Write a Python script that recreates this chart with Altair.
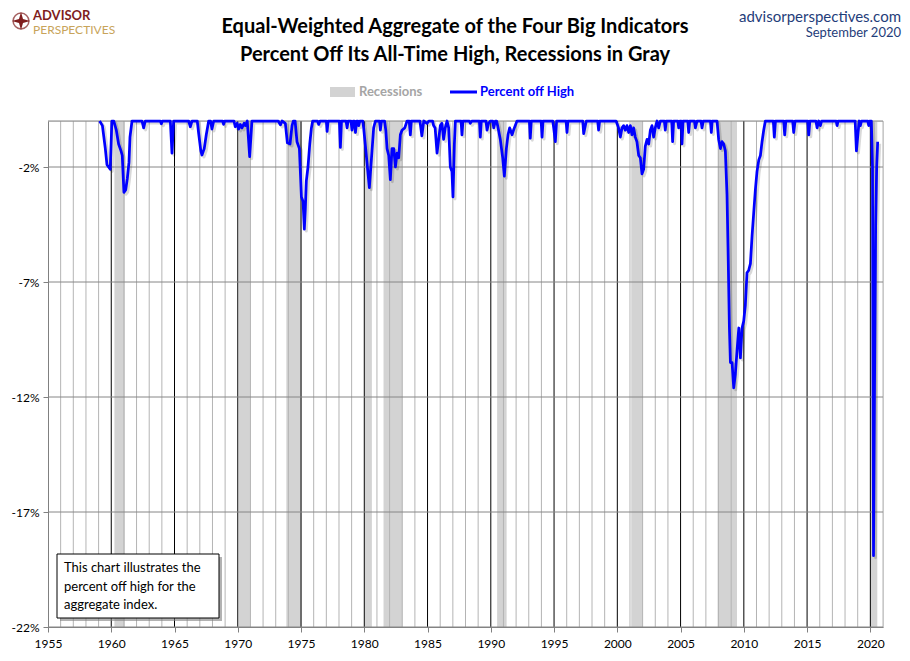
import altair as alt
import pandas as pd

# ---- data ----
years = [1959.08, 1959.3, 1959.53, 1959.66, 1959.92, 1960.05, 1960.2, 1960.4, 1960.58, 1960.77, 1960.87,
         1961.0, 1961.14, 1961.27, 1961.4, 1961.48, 1961.64, 1962.43, 1962.56, 1962.69, 1963.88, 1963.96,
         1964.04, 1964.67, 1964.8, 1964.93, 1966.12, 1966.25, 1966.38, 1966.8, 1966.9, 1967.08, 1967.17,
         1967.35, 1967.51, 1967.7, 1967.85, 1967.96, 1968.1, 1968.8, 1968.88, 1968.96, 1969.7, 1969.8,
         1969.95, 1970.07, 1970.2, 1970.33, 1970.5, 1970.6, 1970.75, 1970.94, 1971.12,
         1973.2, 1973.37, 1973.5, 1973.76, 1973.92, 1974.13, 1974.29, 1974.39, 1974.53, 1974.68, 1974.87,
         1975.03, 1975.16, 1975.26, 1975.34, 1975.42, 1975.55, 1975.69, 1975.82, 1975.92, 1976.3, 1976.4,
         1976.5, 1977.0, 1977.06, 1977.14, 1978.03, 1978.11, 1978.2, 1978.56, 1978.64, 1978.72, 1978.95,
         1979.03, 1979.12, 1979.22, 1979.3, 1979.4, 1979.5, 1979.56, 1979.65, 1979.88, 1979.95, 1980.16,
         1980.4, 1980.61, 1980.74, 1980.88, 1981.2, 1981.27, 1981.36, 1981.6, 1981.7, 1981.8, 1981.93,
         1982.06, 1982.19, 1982.33, 1982.46, 1982.59, 1982.72, 1982.85, 1982.98, 1983.2, 1983.38, 1983.55,
         1983.64, 1983.72, 1984.4, 1984.55, 1984.7, 1984.96, 1985.1, 1985.4, 1985.48, 1985.6, 1985.75,
         1985.88, 1986.01, 1986.14, 1986.27, 1986.4, 1986.54, 1986.67, 1986.8, 1986.93, 1987.01, 1987.12,
         1987.2, 1987.65, 1987.72, 1987.8, 1988.3, 1988.38, 1988.5, 1989.1, 1989.17, 1989.25, 1989.62,
         1989.7, 1989.83, 1989.96, 1990.15, 1990.23, 1990.36, 1990.46, 1990.54, 1990.75, 1990.94, 1991.07,
         1991.23, 1991.36, 1991.49, 1991.68, 1991.86, 1992.07, 1993.05, 1993.12, 1993.2, 1993.98, 1994.05,
         1994.13, 1994.9, 1994.97, 1995.1, 1995.2, 1995.95, 1996.02, 1996.1, 1997.27, 1997.34, 1997.47,
         1997.55, 1998.45, 1998.52, 1998.6, 1999.9, 1999.97, 2000.1, 2000.24, 2000.37, 2000.5, 2000.63,
         2000.76, 2000.9, 2001.03, 2001.16, 2001.29, 2001.42, 2001.55, 2001.69, 2001.82, 2001.95, 2002.08,
         2002.21, 2002.35, 2002.48, 2002.61, 2002.74, 2002.87, 2003.0, 2003.14, 2003.27, 2003.4, 2003.72,
         2003.79, 2003.87, 2004.3, 2004.37, 2004.45, 2004.78, 2004.85, 2004.95, 2005.05, 2005.11, 2005.2,
         2005.57, 2005.64, 2005.72, 2006.1, 2006.17, 2006.3, 2006.62, 2006.69, 2006.8, 2007.36, 2007.43,
         2007.5, 2007.88, 2008.01, 2008.15, 2008.28, 2008.41, 2008.54, 2008.67, 2008.75, 2008.86, 2008.94,
         2009.07, 2009.2, 2009.33, 2009.46, 2009.6, 2009.73, 2009.86, 2009.99, 2010.12, 2010.25, 2010.38,
         2010.52, 2010.65, 2010.78, 2010.91, 2011.04, 2011.18, 2011.31, 2011.44, 2011.57, 2011.7, 2012.33,
         2012.41, 2012.5, 2013.15, 2013.23, 2013.32, 2013.86, 2013.94, 2014.05, 2015.05, 2015.13, 2015.22,
         2015.7, 2015.79, 2015.92, 2016.05, 2016.15, 2017.3, 2017.37, 2017.45, 2018.8, 2018.9, 2019.03,
         2019.12, 2019.21, 2019.3, 2019.8, 2019.87, 2019.95, 2020.08, 2020.17, 2020.25, 2020.33, 2020.42,
         2020.5, 2020.58]
pct_off_high = [0, -0.2, -1.2, -1.9, -2.1, 0, 0, -0.4, -1.0, -1.3, -1.5,
                -3.1, -3.0, -2.5, -1.8, -0.7, 0, 0, -0.3, 0, 0, -0.12,
                0, 0, -1.4, 0, 0, -0.25, 0, 0, -0.5, -1.3, -1.48,
                -1.2, -0.6, 0, 0, -0.35, 0, 0, -0.15, 0, 0, -0.25,
                -0.1, -0.35, -0.15, -0.3, -0.1, -0.2, 0, -1.55, 0,
                0, -0.17, 0, -0.1, -0.95, -1.0, -0.2, 0, 0, -0.9, -1.2,
                -3.3, -3.5, -4.7, -3.8, -2.6, -2.0, -1.0, -0.3, 0, 0, -0.15,
                0, 0, -0.45, 0, 0, -1.15, 0, 0, -0.3, 0, 0,
                -0.4, 0, 0, -0.5, 0, 0, -0.2, 0, 0, -0.3, -1.5,
                -2.9, -1.3, -0.3, 0, 0, -0.4, 0, 0, -0.4, -1.2, -1.5,
                -2.55, -1.2, -1.2, -2.0, -1.4, -1.6, -0.6, -0.4, -0.3, 0, 0,
                -0.6, 0, 0, -0.65, 0, -0.1, 0, 0, -0.2, -0.3, -1.4,
                -0.8, -0.2, -0.1, -0.8, -0.3, 0, -0.3, -2.0, -2.2, -3.3, -1.0,
                0, 0, -0.6, 0, 0, -0.1, 0, 0, -0.7, 0, 0,
                -0.4, -0.1, 0, 0, -0.3, 0, 0, -0.2, -0.8, -1.6, -2.4,
                -1.2, -0.6, -0.3, -0.6, -0.3, 0, 0, -0.75, 0, 0, -0.7,
                0, 0, -0.3, -0.9, 0, 0, -0.5, 0, 0, -0.55, -0.2,
                0, 0, -0.4, 0, 0, -0.1, -0.3, -0.7, -0.3, -0.2, -0.4,
                -0.2, -0.5, -0.2, -0.6, -0.3, -0.7, -0.9, -1.5, -1.6, -2.3, -2.1,
                -1.1, -0.8, -1.0, -0.4, -0.2, -0.7, -0.3, 0, -0.3, 0, 0,
                -0.4, 0, 0, -0.9, 0, 0, -0.3, 0, 0, -1.0, 0,
                0, -0.5, 0, 0, -0.3, 0, 0, -0.3, 0, 0, -0.5,
                0, 0, -0.8, -1.2, -0.9, -1.0, -1.3, -3.2, -5.5, -9.0, -10.5,
                -10.5, -11.6, -11.0, -10.0, -9.0, -10.3, -9.0, -8.7, -8.0, -6.6, -6.5,
                -6.2, -5.0, -4.0, -3.0, -2.2, -1.7, -1.5, -0.9, -0.4, 0, 0,
                -0.7, 0, 0, -0.6, 0, 0, -0.5, 0, 0, -0.6, 0,
                0, -0.3, 0, -0.2, 0, 0, -0.2, 0, 0, -1.3, -0.5,
                0, -0.2, 0, 0, -0.2, 0, 0, -2.0, -18.9, -11.5, -4.5,
                -2.0, -0.9]

rec_start = [1960.25, 1970.08, 1973.84, 1980.05, 1981.52, 1990.5, 2001.1, 2007.92, 2020.0]
rec_end = [1961.08, 1970.99, 1975.05, 1980.6, 1983.0, 1991.25, 2002.0, 2009.46, 2020.55]

x_tick_years = [1955, 1960, 1965, 1970, 1975, 1980, 1985, 1990, 1995, 2000, 2005, 2010, 2015, 2020]
major_years = [1960, 1965, 1970, 1975, 1980, 1985, 1990, 1995, 2000, 2005, 2010, 2015, 2020]
minor_years = [y for y in range(1956, 2022) if y % 5 != 0]
y_ticks = [-22, -17, -12, -7, -2]
h_lines = [0, -2, -7, -12, -17, -22]

note_lines = ["This chart illustrates the", "percent off high for the", "aggregate index."]

FONT = "Lato"
W, H = 835, 506

line_df = pd.DataFrame({"year": years, "pct": pct_off_high})
rec_df = pd.DataFrame({"start": rec_start, "end": rec_end})

xscale = alt.Scale(domain=[1955, 2021], nice=False, zero=False)
yscale = alt.Scale(domain=[-22, 0], nice=False, zero=False)

xaxis = alt.Axis(values=x_tick_years, format="d", title=None, grid=False, labelFont=FONT,
                 labelFontSize=12, labelColor="#000000", domainColor="#808080", tickColor="#808080",
                 tickSize=5, labelPadding=6, labelFlush=False)
yaxis = alt.Axis(values=y_ticks, labelExpr="datum.value + '%'", title=None, grid=False, labelFont=FONT,
                 labelFontSize=12, labelColor="#000000", domainColor="#808080", tickColor="#808080",
                 tickSize=5, labelPadding=4)

X = lambda f: alt.X(f, scale=xscale, axis=xaxis)
Y = lambda f: alt.Y(f, scale=yscale, axis=yaxis)

bands = alt.Chart(rec_df).mark_rect(color="#D3D3D3").encode(
    x=X("start:Q"), x2="end:Q", y=alt.value(0), y2=alt.value(H))

minor = alt.Chart(pd.DataFrame({"year": minor_years})).mark_rule(color="#B4B4B4", strokeWidth=1).encode(
    x=X("year:Q"))
major = alt.Chart(pd.DataFrame({"year": major_years})).mark_rule(color="#000000", strokeWidth=1).encode(
    x=X("year:Q"))
hgrid = alt.Chart(pd.DataFrame({"v": h_lines})).mark_rule(color="#868686", strokeWidth=1).encode(
    y=Y("v:Q"))

shadow = alt.Chart(line_df).mark_line(color="#000000", strokeWidth=3, opacity=0.15, xOffset=2, yOffset=2,
                                      strokeJoin="round").encode(x=X("year:Q"), y=Y("pct:Q"))
line = alt.Chart(line_df).mark_line(color="#0000FF", strokeWidth=2.75, strokeJoin="round").encode(
    x=X("year:Q"), y=Y("pct:Q"))

one = alt.Data(values=[{}])


def txt(s, x, y, size, color, weight="normal", align="left", font=FONT):
    return alt.Chart(one).mark_text(text=s, fontSize=size, color=color, fontWeight=weight, align=align,
                                    baseline="middle", font=font).encode(x=alt.value(x), y=alt.value(y))


title1 = txt("Equal-Weighted Aggregate of the Four Big Indicators", 407, -94, 20, "#000000", "bold", "center")
title2 = txt("Percent Off Its All-Time High, Recessions in Gray", 407, -66, 20, "#000000", "bold", "center")
site = txt("advisorperspectives.com", 853, -104, 15, "#1F3D7A", "normal", "right")
date = txt("September 2020", 853, -88, 13, "#1F3D7A", "normal", "right")
logo1 = txt("ADVISOR", -15, -105, 13, "#7F1D1D", "bold")
logo2 = txt("PERSPECTIVES", -15, -91, 12, "#C8A45A", "normal")
icon_ring = alt.Chart(one).mark_point(shape="circle", size=250, color="#7F1D1D", strokeWidth=1.5,
                                      filled=False).encode(x=alt.value(-27), y=alt.value(-100))
icon_star = alt.Chart(one).mark_point(
    shape="M0,-1L0.22,-0.22L1,0L0.22,0.22L0,1L-0.22,0.22L-1,0L-0.22,-0.22Z",
    size=330, color="#7F1D1D", filled=True, opacity=1).encode(x=alt.value(-27), y=alt.value(-100))

leg_rect = alt.Chart(one).mark_rect(color="#D3D3D3").encode(
    x=alt.value(282), x2=alt.value(307), y=alt.value(-34), y2=alt.value(-24))
leg_rec_txt = txt("Recessions", 311, -29, 13, "#A5A5A5", "bold")
leg_line = alt.Chart(one).mark_rule(color="#0000FF", strokeWidth=3).encode(
    x=alt.value(402), x2=alt.value(429), y=alt.value(-29))
leg_line_txt = txt("Percent off High", 432, -29, 13, "#0000FF", "bold")

box_shadow = alt.Chart(one).mark_rect(color="#7F7F7F", opacity=0.6).encode(
    x=alt.value(12), x2=alt.value(174), y=alt.value(436), y2=alt.value(500))
box = alt.Chart(one).mark_rect(fill="#FFFFFF", stroke="#000000", strokeWidth=1).encode(
    x=alt.value(9), x2=alt.value(171), y=alt.value(433), y2=alt.value(497))
note_layers = [txt(s, 16, 447 + 18.5 * i, 13, "#000000") for i, s in enumerate(note_lines)]

chart = alt.layer(
    bands, minor, major, hgrid, shadow, line,
    title1, title2, site, date, logo1, logo2, icon_ring, icon_star,
    leg_rect, leg_rec_txt, leg_line, leg_line_txt,
    box_shadow, box, *note_layers,
).properties(
    width=W, height=H,
    autosize=alt.AutoSizeParams(type="none"),
    padding={"left": 40, "top": 113, "right": 19, "bottom": 26},
).configure_view(stroke=None).configure(background="#FFFFFF")

chart.save("out.html", embed_options={"renderer": "svg", "actions": False})
